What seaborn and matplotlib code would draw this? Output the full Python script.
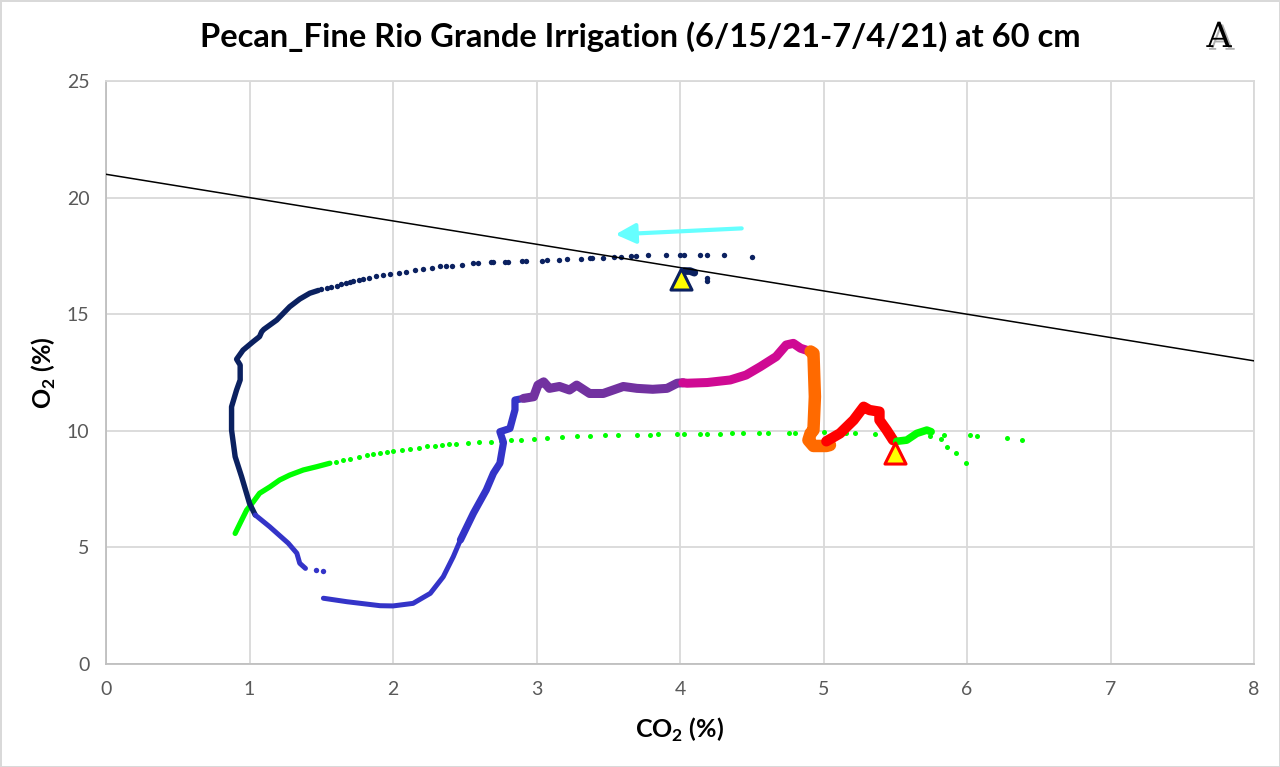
import matplotlib
matplotlib.use("Agg")
import matplotlib.pyplot as plt
import matplotlib.patheffects as pe
import seaborn as sns
import pandas as pd

# ---- data: CO2 (%) vs O2 (%) trajectory, split into coloured stretches ----
navy_dot_co2 = [4.50, 4.31, 4.19, 4.14, 4.03, 4.00, 3.90, 3.78, 3.69, 3.66,
                3.59, 3.54, 3.46, 3.39, 3.37, 3.31, 3.21, 3.16, 3.07, 3.04,
                2.93, 2.90, 2.80, 2.78, 2.70, 2.68, 2.59, 2.56, 2.48, 2.41,
                2.37, 2.33, 2.27, 2.21, 2.15, 2.09, 2.04, 1.98, 1.93, 1.88,
                1.83, 1.79, 1.76, 1.72, 1.70, 1.67, 1.64, 1.61, 1.57, 1.54,
                1.50, 4.19, 4.19]
navy_dot_o2 = [17.47, 17.55, 17.55, 17.55, 17.55, 17.55, 17.55, 17.52, 17.50, 17.50,
               17.45, 17.45, 17.42, 17.40, 17.40, 17.37, 17.37, 17.33, 17.32, 17.30,
               17.28, 17.28, 17.25, 17.25, 17.22, 17.22, 17.18, 17.18, 17.11, 17.08,
               17.07, 17.05, 16.99, 16.95, 16.90, 16.82, 16.78, 16.74, 16.69, 16.64,
               16.57, 16.51, 16.47, 16.42, 16.38, 16.34, 16.28, 16.22, 16.17, 16.11,
               16.07, 16.56, 16.44]

navy_start_co2 = [4.03, 4.07, 4.10]
navy_start_o2 = [16.85, 16.85, 16.78]

navy_co2 = [1.48, 1.42, 1.35, 1.28, 1.19, 1.10, 1.085, 1.07, 1.025, 0.955,
            0.91, 0.935, 0.935, 0.91, 0.875, 0.875, 0.90, 0.945, 1.00, 1.04]
navy_o2 = [16.02, 15.90, 15.65, 15.32, 14.75, 14.35, 14.25, 14.04, 13.82, 13.46,
           13.07, 12.82, 12.18, 11.75, 11.03, 10.03, 8.89, 8.03, 6.89, 6.39]

blue_a_co2 = [1.04, 1.14, 1.27, 1.33, 1.35, 1.39]
blue_a_o2 = [6.39, 5.89, 5.18, 4.75, 4.32, 4.10]
blue_dot_co2 = [1.46, 1.51]
blue_dot_o2 = [4.03, 3.99]

blue_b_co2 = [1.515, 1.68, 1.91, 2.00, 2.14, 2.26, 2.35, 2.42, 2.47]
blue_b_o2 = [2.82, 2.67, 2.50, 2.49, 2.60, 3.03, 3.74, 4.60, 5.32]

blue_c_co2 = [2.47, 2.56, 2.65, 2.70, 2.745, 2.77, 2.745, 2.815, 2.85, 2.85, 2.91]
blue_c_o2 = [5.32, 6.46, 7.46, 8.18, 8.61, 9.50, 9.96, 10.10, 10.90, 11.32, 11.39]

purple_co2 = [2.91, 2.98, 3.01, 3.05, 3.09, 3.16, 3.23, 3.28, 3.37, 3.465,
              3.605, 3.70, 3.81, 3.91, 3.98, 4.02]
purple_o2 = [11.39, 11.46, 11.96, 12.10, 11.82, 11.90, 11.75, 11.96, 11.60, 11.60,
             11.90, 11.82, 11.78, 11.82, 12.04, 12.06]

magenta_co2 = [4.02, 4.05, 4.19, 4.35, 4.46, 4.56, 4.67, 4.74, 4.79, 4.84, 4.91]
magenta_o2 = [12.06, 12.04, 12.07, 12.18, 12.39, 12.75, 13.18, 13.68, 13.75, 13.54, 13.40]

orange_co2 = [4.91, 4.93, 4.94, 4.93, 4.91, 4.895, 4.93, 5.02, 5.045]
orange_o2 = [13.40, 13.32, 11.46, 10.03, 9.89, 9.60, 9.35, 9.35, 9.39]

red_co2 = [5.02, 5.115, 5.21, 5.28, 5.32, 5.39, 5.39, 5.44, 5.485]
red_o2 = [9.55, 9.89, 10.46, 11.03, 10.89, 10.82, 10.46, 10.03, 9.60]

green_end_co2 = [5.51, 5.58, 5.65, 5.72, 5.75]
green_end_o2 = [9.55, 9.60, 9.89, 10.03, 9.96]

green_low_co2 = [0.90, 0.934, 0.98, 1.027, 1.07, 1.143, 1.21, 1.28, 1.375, 1.468, 1.56]
green_low_o2 = [5.60, 6.03, 6.60, 6.96, 7.32, 7.60, 7.89, 8.10, 8.32, 8.46, 8.61]

green_dot_co2 = [1.60, 1.65, 1.70, 1.76, 1.82, 1.86, 1.91, 1.96, 2.00, 2.06,
                 2.12, 2.18, 2.24, 2.29, 2.34, 2.39, 2.44, 2.52, 2.60, 2.68,
                 2.75, 2.82, 2.89, 2.98, 3.07, 3.18, 3.28, 3.37, 3.48, 3.57,
                 3.70, 3.79, 3.85, 3.98, 4.03, 4.14, 4.19, 4.28, 4.36, 4.44,
                 4.55, 4.61, 4.76, 4.80, 4.94, 5.00, 5.16, 5.22, 5.36, 5.48,
                 5.74, 5.82, 5.84, 5.86, 5.92, 5.99, 6.02, 6.07, 6.28, 6.38]
green_dot_o2 = [8.68, 8.74, 8.80, 8.87, 8.96, 9.00, 9.06, 9.11, 9.15, 9.19,
                9.23, 9.28, 9.33, 9.36, 9.39, 9.42, 9.45, 9.48, 9.51, 9.54,
                9.56, 9.59, 9.62, 9.66, 9.70, 9.73, 9.76, 9.78, 9.80, 9.81,
                9.82, 9.84, 9.85, 9.85, 9.87, 9.88, 9.88, 9.88, 9.89, 9.90,
                9.92, 9.92, 9.92, 9.92, 9.93, 9.93, 9.92, 9.92, 9.88, 9.88,
                9.78, 9.64, 9.80, 9.32, 9.06, 8.63, 9.80, 9.78, 9.70, 9.59]

# start / end markers
start_co2, start_o2 = [4.01], [16.50]
end_co2, end_o2 = [5.50], [9.05]

# reference line O2 = 21 - CO2
ref_co2 = [0, 8]
ref_o2 = [21, 13]

# direction arrow
arrow_from = (4.43, 18.68)
arrow_to = (3.55, 18.42)

x_ticks = [0, 1, 2, 3, 4, 5, 6, 7, 8]
y_ticks = [0, 5, 10, 15, 20, 25]

title = "Pecan_Fine Rio Grande Irrigation (6/15/21-7/4/21) at 60 cm"

# ---- styling ----
sns.set_style("white")
plt.rcParams["font.family"] = ["Lato", "DejaVu Sans"]
plt.rcParams["mathtext.fontset"] = "custom"
plt.rcParams["mathtext.rm"] = "Lato"
plt.rcParams["mathtext.bf"] = "Lato:bold"

NAVY = "#0B2160"
BLUE = "#3434C8"
PURPLE = "#7232A0"
MAGENTA = "#CF0A93"
ORANGE = "#FF6A00"
RED = "#FF0000"
GREEN = "#00FF00"
GRID = "#D9D9D9"
TICK = "#595959"

fig = plt.figure(figsize=(12.8, 7.67), dpi=100, facecolor="white",
                 edgecolor=GRID, linewidth=2)
ax = fig.add_axes([106 / 1280, 1 - 664 / 767, (1254 - 106) / 1280, (664 - 81) / 767])


def path(xs, ys, color, lw, z=3):
    df = pd.DataFrame({"co2": xs, "o2": ys})
    sns.lineplot(data=df, x="co2", y="o2", sort=False, estimator=None, ax=ax,
                 color=color, lw=lw, solid_capstyle="round",
                 solid_joinstyle="round", zorder=z)


def dots(xs, ys, color, s=13, z=3):
    df = pd.DataFrame({"co2": xs, "o2": ys})
    sns.scatterplot(data=df, x="co2", y="o2", ax=ax, color=color, s=s,
                    linewidth=0, zorder=z)


# reference line
path(ref_co2, ref_o2, "black", 1.1, z=4)

# green stretch (drawn first, underneath)
dots(green_dot_co2, green_dot_o2, GREEN)
path(green_low_co2, green_low_o2, GREEN, 3.8)

# navy stretch
dots(navy_dot_co2, navy_dot_o2, NAVY, s=15)
path(navy_start_co2, navy_start_o2, NAVY, 5.5)
path(navy_co2, navy_o2, NAVY, 3.9)

# blue stretch
path(blue_a_co2, blue_a_o2, BLUE, 3.6)
dots(blue_dot_co2, blue_dot_o2, BLUE, s=15)
path(blue_b_co2, blue_b_o2, BLUE, 3.6)
path(blue_c_co2, blue_c_o2, BLUE, 5.2)

# purple, magenta, orange, red, final green
path(purple_co2, purple_o2, PURPLE, 6.5)
path(magenta_co2, magenta_o2, MAGENTA, 6.5)
path(orange_co2, orange_o2, ORANGE, 9.0)
path(red_co2, red_o2, RED, 7.5)
path(green_end_co2, green_end_o2, GREEN, 5.5)

# start / end triangles
sns.scatterplot(x=start_co2, y=start_o2, ax=ax, marker="^", s=230,
                color="#FFFF00", edgecolor=NAVY, linewidth=2.2, zorder=6)
sns.scatterplot(x=end_co2, y=end_o2, ax=ax, marker="^", s=230,
                color="#FFFF00", edgecolor=RED, linewidth=2.2, zorder=6)

# direction arrow
ax.annotate("", xy=arrow_to, xytext=arrow_from,
            arrowprops=dict(arrowstyle="-|>", color="#66FFFF", lw=3,
                            mutation_scale=30, shrinkA=0, shrinkB=0),
            zorder=7)

# axes
ax.set_xlim(0, 8)
ax.set_ylim(0, 25)
ax.set_xticks(x_ticks)
ax.set_yticks(y_ticks)
ax.set_xticklabels([str(v) for v in x_ticks])
ax.set_yticklabels([str(v) for v in y_ticks])
ax.tick_params(axis="both", length=0, labelsize=14, labelcolor=TICK, pad=12)
ax.grid(True, color=GRID, lw=1.3)
ax.set_axisbelow(True)
for side in ["top", "right"]:
    ax.spines[side].set_color(GRID)
    ax.spines[side].set_linewidth(1.3)
for side in ["left", "bottom"]:
    ax.spines[side].set_color("#BFBFBF")
    ax.spines[side].set_linewidth(1.3)

ax.set_xlabel(r"CO$_\mathbf{2}$ (%)", fontsize=18, fontweight="bold",
              color="black", labelpad=13)
ax.set_ylabel(r"O$_\mathbf{2}$ (%)", fontsize=18, fontweight="bold",
              color="black", labelpad=6)

fig.text(0.500, 0.952, title, ha="center", va="center", fontsize=23.5,
         fontweight="bold", color="black")

# small monogram in the corner, with a grey drop shadow
fig.text(1219 / 1280, 1 - 37 / 767, "A", ha="center", va="center",
         fontsize=25, family="DejaVu Serif", color="black",
         path_effects=[pe.withSimplePatchShadow(offset=(2, -2),
                                                shadow_rgbFace="#B0B0B0",
                                                alpha=1.0)])

fig.savefig("out.png", dpi=100, facecolor="white", edgecolor=fig.get_edgecolor())
